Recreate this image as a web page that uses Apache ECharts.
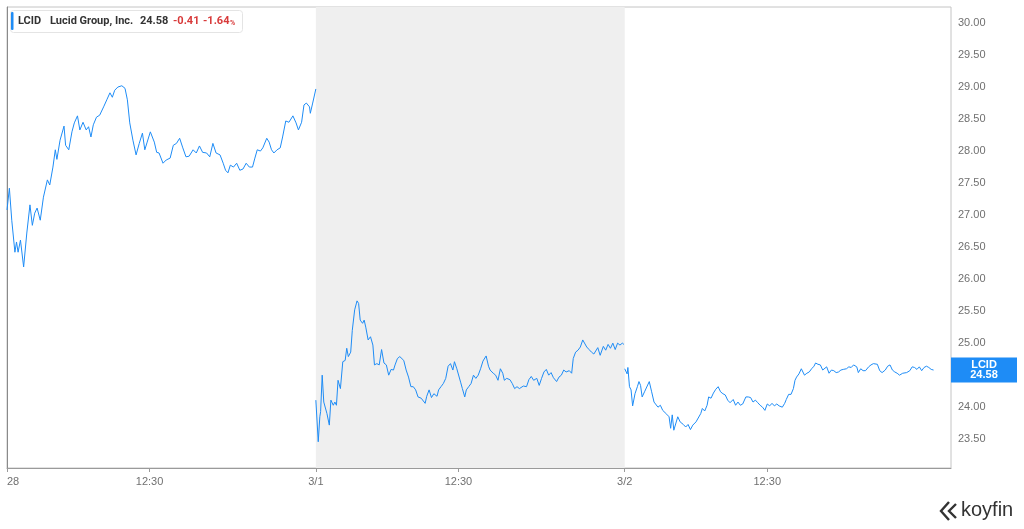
<!DOCTYPE html>
<html>
<head>
<meta charset="utf-8">
<style>
  html, body { margin: 0; padding: 0; background: #fff; }
  #chart { width: 1024px; height: 529px; }
</style>
<script src="https://cdn.jsdelivr.net/npm/echarts@6/dist/echarts.min.js"></script>
</head>
<body>
<div id="chart"></div>
<script>
// minutes from the 9:30 open, and price, for each session
var day1Min = [0, 3, 6, 10, 12, 14, 17, 21, 25, 29, 32, 35, 38, 42, 46, 51, 54, 58, 61, 63, 67, 69, 72, 74, 78, 82, 85, 89, 92, 96, 100, 103, 106, 109, 113, 117, 122, 126, 130, 133, 136, 140, 145, 149, 152, 155, 159, 163, 167, 171, 174, 177, 181, 186, 189, 192, 197, 201, 206, 210, 214, 218, 222, 226, 230, 235, 239, 243, 247, 252, 256, 260, 264, 269, 273, 276, 279, 282, 286, 290, 294, 298, 302, 306, 310, 313, 316, 320, 323, 328, 331, 334, 337, 341, 345, 348, 352, 356, 361, 365, 368, 372, 375, 378, 382, 383, 386, 387, 390]
var day1Px = [27.08, 27.42, 26.92, 26.42, 26.58, 26.42, 26.61, 26.19, 26.72, 27.16, 26.84, 27.03, 27.11, 26.92, 27.28, 27.55, 27.47, 27.75, 28.02, 27.87, 28.17, 28.20, 28.39, 28.09, 28.02, 28.30, 28.44, 28.55, 28.33, 28.45, 28.33, 28.38, 28.22, 28.41, 28.53, 28.56, 28.69, 28.80, 28.91, 28.84, 28.95, 29.00, 29.02, 28.98, 28.80, 28.44, 28.17, 27.94, 28.12, 28.28, 28.02, 28.14, 28.30, 28.14, 27.98, 27.97, 27.81, 27.86, 27.89, 28.09, 28.12, 28.20, 28.05, 27.91, 27.92, 28.02, 27.97, 28.08, 27.98, 27.97, 27.91, 28.12, 27.97, 27.94, 27.81, 27.70, 27.66, 27.78, 27.75, 27.81, 27.70, 27.72, 27.81, 27.75, 27.75, 27.89, 28.02, 28.00, 28.05, 28.20, 28.14, 28.02, 27.97, 28.02, 28.05, 28.22, 28.47, 28.45, 28.55, 28.44, 28.33, 28.45, 28.72, 28.75, 28.69, 28.59, 28.75, 28.75, 28.97]

var day2Min = [0, 3, 5, 6, 8, 10, 12, 14, 17, 19, 22, 24, 26, 28, 31, 34, 37, 39, 41, 44, 46, 49, 52, 54, 56, 59, 61, 63, 66, 69, 72, 74, 77, 80, 83, 86, 89, 92, 95, 98, 100, 103, 106, 108, 111, 114, 117, 120, 123, 126, 129, 133, 138, 140, 143, 146, 149, 153, 155, 158, 161, 164, 167, 170, 173, 175, 178, 180, 183, 185, 188, 190, 193, 196, 199, 202, 205, 208, 211, 215, 218, 220, 224, 227, 230, 233, 236, 238, 241, 245, 248, 251, 254, 257, 262, 266, 269, 272, 275, 279, 282, 285, 288, 291, 294, 297, 300, 304, 307, 310, 313, 316, 320, 323, 325, 328, 331, 334, 337, 339, 342, 345, 348, 351, 353, 356, 359, 363, 366, 369, 372, 375, 378, 381, 384, 387, 389]
var day2Px = [24.11, 23.46, 23.85, 23.93, 24.50, 24.08, 24.11, 23.90, 23.72, 24.11, 24.03, 24.08, 24.03, 24.42, 24.29, 24.71, 24.73, 24.92, 24.79, 24.86, 25.20, 25.52, 25.66, 25.62, 25.36, 25.31, 25.36, 25.25, 25.05, 25.10, 24.97, 24.66, 24.68, 24.66, 24.90, 24.69, 24.66, 24.50, 24.59, 24.58, 24.66, 24.76, 24.79, 24.81, 24.73, 24.58, 24.47, 24.32, 24.32, 24.27, 24.16, 24.14, 24.06, 24.17, 24.27, 24.15, 24.21, 24.17, 24.27, 24.32, 24.37, 24.45, 24.64, 24.68, 24.58, 24.71, 24.60, 24.58, 24.38, 24.29, 24.16, 24.27, 24.32, 24.37, 24.50, 24.45, 24.50, 24.60, 24.72, 24.80, 24.64, 24.58, 24.53, 24.50, 24.42, 24.60, 24.53, 24.42, 24.45, 24.43, 24.37, 24.29, 24.32, 24.29, 24.33, 24.32, 24.43, 24.48, 24.42, 24.45, 24.34, 24.45, 24.55, 24.59, 24.50, 24.54, 24.46, 24.40, 24.47, 24.50, 24.58, 24.55, 24.57, 24.53, 24.76, 24.86, 24.89, 24.94, 25.05, 25.06, 24.94, 24.90, 24.86, 24.83, 24.86, 24.93, 24.81, 24.95, 24.89, 24.98, 24.92, 25.00, 24.90, 25.00, 24.97, 25.00, 24.98]

var day3Min = [0, 3, 4, 6, 8, 10, 13, 16, 18, 20, 22, 25, 27, 31, 34, 37, 39, 42, 45, 48, 50, 53, 56, 58, 60, 62, 64, 67, 70, 74, 77, 80, 83, 86, 90, 92, 96, 98, 101, 104, 106, 109, 112, 115, 118, 121, 124, 127, 130, 133, 137, 140, 143, 146, 149, 153, 156, 159, 162, 165, 168, 171, 174, 177, 180, 183, 186, 189, 192, 195, 199, 202, 204, 207, 210, 213, 215, 217, 220, 223, 225, 227, 230, 233, 236, 239, 241, 244, 247, 250, 252, 255, 258, 261, 264, 267, 270, 273, 276, 280, 283, 286, 289, 291, 293, 295, 298, 301, 304, 308, 311, 314, 316, 319, 322, 325, 329, 332, 335, 338, 341, 344, 347, 351, 353, 356, 360, 363, 366, 369, 372, 375, 378, 381, 384, 387, 390]
var day3Px = [24.60, 24.52, 24.62, 24.32, 24.27, 24.02, 24.21, 24.32, 24.40, 24.34, 24.16, 24.24, 24.21, 24.40, 24.24, 24.08, 24.11, 24.00, 24.03, 23.95, 23.93, 23.89, 23.85, 23.67, 23.88, 23.64, 23.65, 23.85, 23.77, 23.73, 23.69, 23.73, 23.65, 23.72, 23.77, 23.75, 23.90, 23.98, 23.94, 24.03, 24.16, 24.14, 24.22, 24.28, 24.32, 24.24, 24.21, 24.19, 24.11, 24.07, 24.12, 24.03, 24.08, 24.03, 24.05, 24.16, 24.16, 24.15, 24.08, 24.11, 24.07, 24.03, 24.00, 23.95, 24.05, 24.02, 24.06, 24.02, 24.05, 24.02, 24.00, 24.06, 24.12, 24.20, 24.20, 24.29, 24.42, 24.47, 24.52, 24.60, 24.62, 24.50, 24.53, 24.55, 24.60, 24.64, 24.69, 24.67, 24.66, 24.58, 24.57, 24.63, 24.53, 24.58, 24.57, 24.54, 24.55, 24.58, 24.59, 24.60, 24.63, 24.62, 24.66, 24.69, 24.63, 24.54, 24.60, 24.57, 24.57, 24.63, 24.66, 24.68, 24.71, 24.67, 24.57, 24.54, 24.58, 24.64, 24.66, 24.58, 24.55, 24.53, 24.50, 24.53, 24.52, 24.54, 24.57, 24.63, 24.62, 24.59, 24.63, 24.57, 24.62, 24.64, 24.62, 24.59, 24.58]

var sessionLen = 390
var xTickVals = [0, 180, 390, 570, 780, 960]
var xTickLabels = ['28', '12:30', '3/1', '12:30', '3/2', '12:30']
var yTickVals = [23.5, 24, 24.5, 25, 25.5, 26, 26.5, 27, 27.5, 28, 28.5, 29, 29.5, 30]
var lastPrice = 24.58
var ticker = 'LCID'

var lineColor = '#1e8cf6'
var xMax = 1192

function toPairs(mins, prices, dayIdx) {
  return mins.map(function(m, i) {
    return [dayIdx * sessionLen + m, prices[i]]
  })
}

function daySeries(data) {
  return {
    type: 'line',
    data: data,
    showSymbol: false,
    symbol: 'none',
    lineStyle: { color: lineColor, width: 1 },
    z: 3
  }
}

var s1 = daySeries(toPairs(day1Min, day1Px, 0))
var s2 = daySeries(toPairs(day2Min, day2Px, 1))
var s3 = daySeries(toPairs(day3Min, day3Px, 2))

s2.markArea = {
  silent: true,
  itemStyle: { color: '#efefef' },
  data: [[{ xAxis: sessionLen }, { xAxis: sessionLen * 2 }]]
}

s3.markPoint = {
  silent: true,
  symbol: 'rect',
  symbolSize: [66, 25],
  symbolOffset: [33, 0],
  itemStyle: { color: '#1e8cf6' },
  label: {
    show: true,
    position: 'inside',
    color: '#fff',
    fontSize: 11,
    fontWeight: 'bold',
    lineHeight: 10,
    align: 'center',
    formatter: ticker + '\n' + lastPrice.toFixed(2)
  },
  data: [{ coord: [xMax, lastPrice] }]
}

var font = 'Liberation Sans, Arial, sans-serif'
var legendFont = 'Roboto, Liberation Sans, sans-serif'
var chart = echarts.init(document.getElementById('chart'))

function legendText(x, str, color, size) {
  return {
    type: 'text',
    left: x,
    top: size < 10 ? 20 : 16,
    z: 11,
    style: {
      text: str,
      font: 'bold ' + size + 'px ' + legendFont,
      fill: color
    }
  }
}

chart.setOption({
  animation: false,
  textStyle: { fontFamily: font },
  grid: {
    left: 7,
    right: 73,
    top: 7,
    bottom: 61,
    show: true,
    borderColor: '#c4c4c4',
    borderWidth: 1,
    backgroundColor: 'transparent'
  },
  xAxis: {
    type: 'value',
    min: 0,
    max: xMax,
    axisLine: { show: true, lineStyle: { color: '#9a9a9a' } },
    axisTick: { show: true, length: 4, customValues: xTickVals, lineStyle: { color: '#9a9a9a' } },
    axisLabel: {
      customValues: xTickVals,
      color: '#707070',
      fontSize: 11,
      margin: 8,
      alignMinLabel: 'left',
      formatter: function(v) {
        var i = xTickVals.indexOf(v)
        return i >= 0 ? xTickLabels[i] : ''
      }
    },
    splitLine: { show: false }
  },
  yAxis: {
    type: 'value',
    position: 'right',
    min: 23.05,
    max: 30.25,
    axisLine: { show: true, lineStyle: { color: '#8a8a8a' } },
    axisTick: { show: false },
    axisLabel: {
      customValues: yTickVals,
      color: '#707070',
      fontSize: 11,
      margin: 7,
      formatter: function(v) { return v.toFixed(2) }
    },
    splitLine: { show: false }
  },
  series: [s1, s2, s3],
  graphic: [
    {
      type: 'rect',
      left: 10,
      top: 10,
      shape: { width: 232, height: 22, r: 3 },
      style: { fill: '#fff', stroke: '#e4e4e4', lineWidth: 1 },
      z: 10
    },
    {
      type: 'rect',
      left: 11,
      top: 12,
      shape: { width: 2.5, height: 18, r: 1 },
      style: { fill: '#1e8cf6' },
      z: 11
    },
    legendText(18, 'LCID', '#333', 11),
    legendText(50, 'Lucid Group, Inc.', '#333', 11),
    legendText(140, '24.58', '#333', 11),
    legendText(173, '-0.41', '#d83a3a', 11),
    legendText(203, '-1.64', '#d83a3a', 11),
    legendText(230, '%', '#d83a3a', 7),
    {
      type: 'polyline',
      z: 11,
      shape: { points: [[949, 502], [941, 511], [949, 520]] },
      style: { stroke: '#333', lineWidth: 2.4, fill: null }
    },
    {
      type: 'polyline',
      z: 11,
      shape: { points: [[956, 504], [949, 511], [956, 518]] },
      style: { stroke: '#333', lineWidth: 2.4, fill: null }
    },
    {
      type: 'text',
      left: 961,
      top: 500,
      z: 11,
      style: {
        text: 'koyfin',
        font: '20px ' + font,
        fill: '#333'
      }
    }
  ]
})
</script>
</body>
</html>
